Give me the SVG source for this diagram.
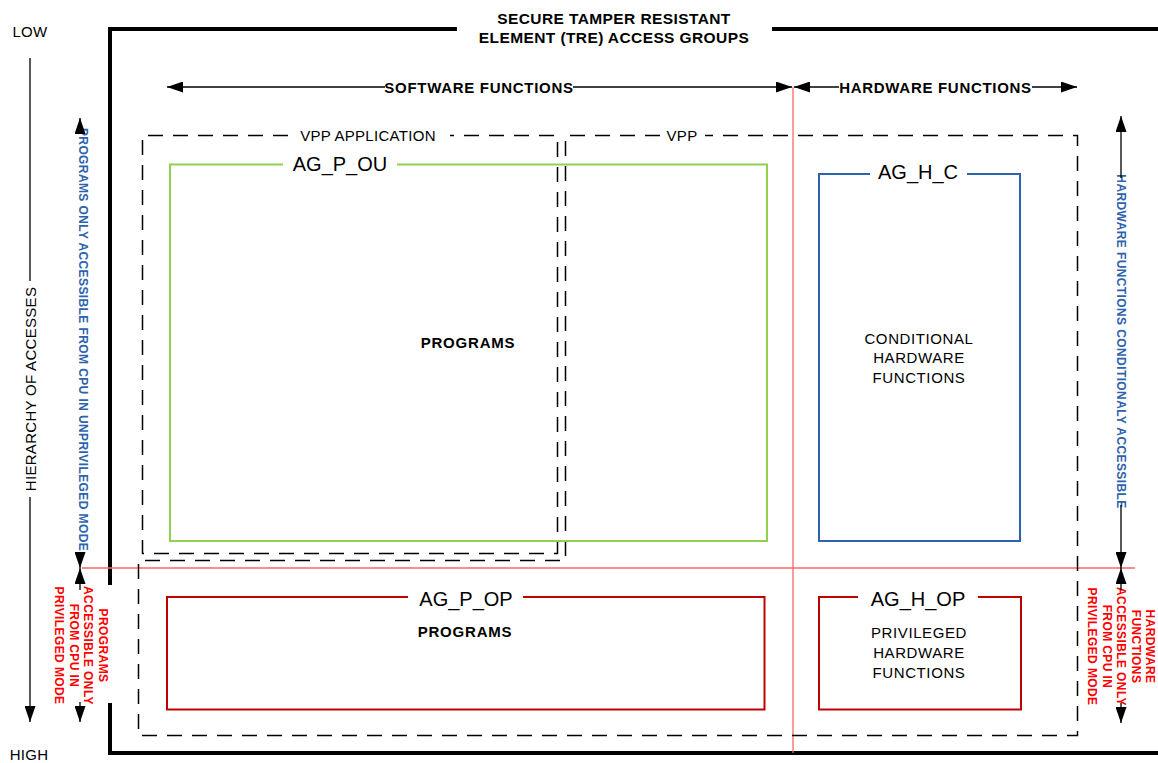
<svg xmlns="http://www.w3.org/2000/svg" width="1158" height="763" viewBox="0 0 1158 763">
<style>
text{font-family:"Liberation Sans",Arial,sans-serif;fill:#000}
.title{font-size:15.5px;font-weight:bold;letter-spacing:0.4px}
.hdr{font-size:15px;font-weight:bold;letter-spacing:0.7px}
.lbl{font-size:15px;letter-spacing:0.3px}
.ag{font-size:20px}
.body{font-size:15px;letter-spacing:0.6px}
.bold{font-size:15px;font-weight:bold;letter-spacing:0.8px}
.side{font-size:12px;font-weight:bold;letter-spacing:0.4px}
.blue{fill:#2E62AC}
.red{fill:#FF0000}
.dash{fill:none;stroke:#000;stroke-width:1.5;stroke-dasharray:15 10}
.thick{fill:none;stroke:#000;stroke-width:4}
.ln{fill:none;stroke:#000;stroke-width:1.3}
.redln{fill:none;stroke:#FF6666;stroke-width:1.3}
</style>
<defs>
<marker id="ah" viewBox="0 0 16 11" refX="16" refY="5.5" markerWidth="16" markerHeight="11" orient="auto" markerUnits="userSpaceOnUse"><path d="M0,0 L16,5.5 L0,11 z" fill="#000"/></marker>
</defs>
<rect width="1158" height="763" fill="#fff"/>

<g id="tre-frame">
<path class="thick" d="M457,29 H110 V585 M110,703 V753 H1158 M772,29 H1158"/>
<text class="title" x="614" y="24" text-anchor="middle">SECURE TAMPER RESISTANT</text>
<text class="title" x="614" y="43" text-anchor="middle">ELEMENT (TRE) ACCESS GROUPS</text>
</g>

<g id="dividers">
<line class="redln" x1="793" y1="87" x2="793" y2="753"/>
<line class="redln" x1="82" y1="568" x2="1135" y2="568"/>
</g>

<g id="vpp-application">
<path class="dash" d="M288,135.5 H142.5 V553.5 H557.5 V135.5 H450"/>
<text class="lbl" x="368" y="141" text-anchor="middle">VPP APPLICATION</text>
</g>

<g id="vpp">
<path class="dash" d="M660,135.5 H565.5 V560.5 H138.5 V735.5 H1077.5 V135.5 H705"/>
<text class="lbl" x="682" y="141" text-anchor="middle">VPP</text>
</g>

<g id="ag-p-ou">
<path d="M283,164.5 H170 V541 H767 V164.5 H397" fill="none" stroke="#92D050" stroke-width="2"/>
<text class="ag" x="340" y="171" text-anchor="middle">AG_P_OU</text>
<text class="bold" x="468" y="347.5" text-anchor="middle">PROGRAMS</text>
</g>

<g id="ag-h-c">
<path d="M870,174 H819 V541 H1020 V174 H967" fill="none" stroke="#2E62AC" stroke-width="2"/>
<text class="ag" x="918" y="179" text-anchor="middle">AG_H_C</text>
<text class="body" x="919" y="343.5" text-anchor="middle">CONDITIONAL</text>
<text class="body" x="919" y="363" text-anchor="middle">HARDWARE</text>
<text class="body" x="919" y="382.5" text-anchor="middle">FUNCTIONS</text>
</g>

<g id="ag-p-op">
<path d="M408,597 H167 V709.5 H764.5 V597 H523" fill="none" stroke="#C00000" stroke-width="2"/>
<text class="ag" x="466" y="606" text-anchor="middle">AG_P_OP</text>
<text class="bold" x="465" y="637" text-anchor="middle">PROGRAMS</text>
</g>

<g id="ag-h-op">
<path d="M858,597 H819 V709.5 H1021 V597 H978" fill="none" stroke="#C00000" stroke-width="2"/>
<text class="ag" x="918" y="606" text-anchor="middle">AG_H_OP</text>
<text class="body" x="919" y="638" text-anchor="middle">PRIVILEGED</text>
<text class="body" x="919" y="658" text-anchor="middle">HARDWARE</text>
<text class="body" x="919" y="677.5" text-anchor="middle">FUNCTIONS</text>
</g>

<g id="hierarchy">
<text class="lbl" x="30" y="37" text-anchor="middle">LOW</text>
<text class="lbl" x="29" y="760" text-anchor="middle">HIGH</text>
<text class="lbl" font-size="16" transform="translate(35.5,389) rotate(-90)" text-anchor="middle">HIERARCHY OF ACCESSES</text>
</g>

<g id="side-labels">
<text class="side blue" transform="translate(78.5,339.5) rotate(90)" text-anchor="middle" letter-spacing="0.7">PROGRAMS  ONLY ACCESSIBLE FROM CPU IN UNPRIVILEGED MODE</text>
<text class="side blue" transform="translate(1117,341.5) rotate(90)" text-anchor="middle">HARDWARE FUNCTIONS CONDITIONALY ACCESSIBLE</text>
<text class="side red" transform="translate(99,645.5) rotate(90)" text-anchor="middle"><tspan x="0" dy="0">PROGRAMS</tspan><tspan x="0" dy="14.7">ACCESSIBLE ONLY</tspan><tspan x="0" dy="14.7">FROM CPU IN</tspan><tspan x="0" dy="14.7">PRIVILEGED MODE</tspan></text>
<text class="side red" transform="translate(1146,646.5) rotate(90)" text-anchor="middle"><tspan x="0" dy="0">HARDWARE</tspan><tspan x="0" dy="14.5">FUNCTIONS</tspan><tspan x="0" dy="14.5">ACCESSIBLE ONLY</tspan><tspan x="0" dy="14.5">FROM CPU IN</tspan><tspan x="0" dy="14.5">PRIVILEGED MODE</tspan></text>
</g>

<g id="function-headers">
<text class="hdr" x="479" y="92.5" text-anchor="middle">SOFTWARE FUNCTIONS</text>
<text class="hdr" x="935.5" y="92.5" text-anchor="middle">HARDWARE FUNCTIONS</text>
</g>

<g id="connectors">
<line class="ln" x1="385" y1="87" x2="167" y2="87" marker-end="url(#ah)"/>
<line class="ln" x1="573" y1="87" x2="792" y2="87" marker-end="url(#ah)"/>
<line class="ln" x1="839" y1="87" x2="794" y2="87" marker-end="url(#ah)"/>
<line class="ln" x1="1032" y1="87" x2="1077" y2="87" marker-end="url(#ah)"/>
<line class="ln" x1="30" y1="58" x2="30" y2="281"/>
<line class="ln" x1="30" y1="497" x2="30" y2="722" marker-end="url(#ah)"/>
<line class="ln" x1="80" y1="127" x2="80" y2="118" marker-end="url(#ah)"/>
<line class="ln" x1="80" y1="553" x2="80" y2="568" marker-end="url(#ah)"/>
<line class="ln" x1="80" y1="590" x2="80" y2="568" marker-end="url(#ah)"/>
<line class="ln" x1="80" y1="702" x2="80" y2="722" marker-end="url(#ah)"/>
<line class="ln" x1="1121" y1="178" x2="1121" y2="116" marker-end="url(#ah)"/>
<line class="ln" x1="1121" y1="505" x2="1121" y2="568" marker-end="url(#ah)"/>
<line class="ln" x1="1121" y1="590" x2="1121" y2="568" marker-end="url(#ah)"/>
<line class="ln" x1="1121" y1="703" x2="1121" y2="723" marker-end="url(#ah)"/>
</g>
</svg>
